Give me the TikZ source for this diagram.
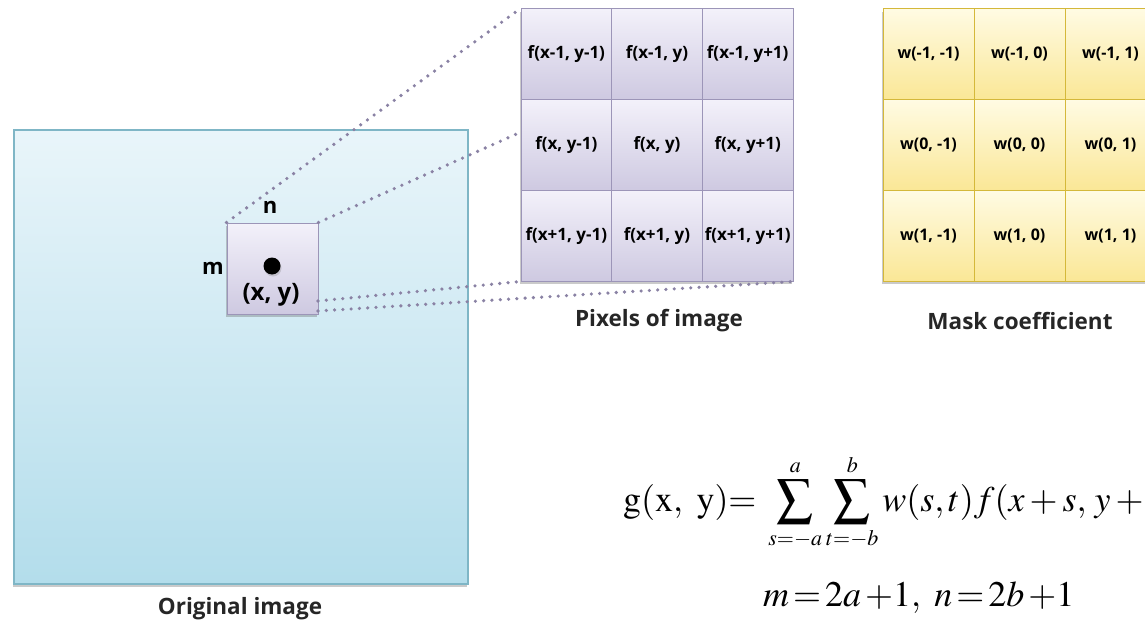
\documentclass[tikz,border=0pt]{standalone}
\usepackage{mathptmx}
\usepackage[no-math]{fontspec}
\setmainfont{Open Sans}
\DeclareMathSizes{36}{36}{22}{16}
\usetikzlibrary{shadows}
\definecolor{origTop}{HTML}{E9F5FA}
\definecolor{origBot}{HTML}{B3DDEB}
\definecolor{origLine}{HTML}{7FB6C6}
\definecolor{lavTop}{HTML}{F3F1FA}
\definecolor{lavBot}{HTML}{CEC9E1}
\definecolor{lavLine}{HTML}{9C95B8}
\definecolor{yelTop}{HTML}{FFFBE3}
\definecolor{yelBot}{HTML}{FAE796}
\definecolor{yelLine}{HTML}{D4B83A}
\definecolor{dotCol}{HTML}{8A82A4}
\tikzset{
  x=1pt, y=-1pt,
  softshadow/.style={drop shadow={shadow xshift=-1.5pt, shadow yshift=-3pt, opacity=0.35, fill=black!60}},
  origbox/.style={draw=origLine, line width=1.2pt, top color=origTop, bottom color=origBot, softshadow},
  lavbox/.style={draw=lavLine, line width=1pt, top color=lavTop, bottom color=lavBot},
  pixcell/.style={lavbox, minimum width=90.67pt, minimum height=90.67pt, inner sep=0pt, font=\bfseries\fontsize{17}{20}\selectfont},
  maskcell/.style={draw=yelLine, line width=1pt, top color=yelTop, bottom color=yelBot, minimum width=91pt, minimum height=90.67pt, inner sep=0pt, font=\bfseries\fontsize{16}{19}\selectfont},
  caption/.style={font=\bfseries\fontsize{22.5}{26}\selectfont, text=black!85},
  winlabel/.style={font=\bfseries\fontsize{22}{25}\selectfont},
  dotted link/.style={draw=dotCol, line width=3.6pt, line cap=round, dash pattern=on 0pt off 8.3pt},
}
\begin{document}
\begin{tikzpicture}
\useasboundingbox (0,0) rectangle (1145,623);
\clip (0,0) rectangle (1145,623);

% original image
\node[origbox, minimum width=454pt, minimum height=454pt, inner sep=0pt] (orig) at (241,357) {};
\node[caption] (origlab) at (240,609) {Original image};

\coordinate (a2) at (521,132);
\coordinate (b3) at (318,301);
\coordinate (b4) at (318,311);

% small window
\node[lavbox, softshadow, minimum width=91pt, minimum height=91pt, inner sep=0pt] (win) at (272.5,268.5) {};
\node[circle, fill=black, inner sep=0pt, minimum size=17pt, drop shadow={shadow xshift=1pt, shadow yshift=-2pt, opacity=0.3}] (dot) at (272,266) {};
\node[winlabel, font=\bfseries\fontsize{24}{27}\selectfont] (xy) at (271,295) {(x, y)};
\node[winlabel] (nlab) at (270,207) {n};
\node[winlabel] (mlab) at (213,268) {m};

% pixel grid
\node[softshadow, fill=white, minimum width=272pt, minimum height=272pt, inner sep=0pt] (pgrid) at (657,145) {};
\node[pixcell] (p11) at (566.33,54.33) {f(x-1, y-1)};
\node[pixcell] (p12) at (657,54.33) {f(x-1, y)};
\node[pixcell] (p13) at (747.67,54.33) {f(x-1, y+1)};
\node[pixcell] (p21) at (566.33,145) {f(x, y-1)};
\node[pixcell] (p22) at (657,145) {f(x, y)};
\node[pixcell] (p23) at (747.67,145) {f(x, y+1)};
\node[pixcell] (p31) at (566.33,235.67) {f(x+1, y-1)};
\node[pixcell] (p32) at (657,235.67) {f(x+1, y)};
\node[pixcell] (p33) at (747.67,235.67) {f(x+1, y+1)};
\node[caption] (pixlab) at (659,321) {Pixels of image};

% mask grid
\node[softshadow, fill=white, minimum width=273pt, minimum height=272pt, inner sep=0pt] (mgrid) at (1019.5,145) {};
\node[maskcell] (w11) at (928.5,54.33) {w(-1, -1)};
\node[maskcell] (w12) at (1019.5,54.33) {w(-1, 0)};
\node[maskcell] (w13) at (1110.5,54.33) {w(-1, 1)};
\node[maskcell] (w21) at (928.5,145) {w(0, -1)};
\node[maskcell] (w22) at (1019.5,145) {w(0, 0)};
\node[maskcell] (w23) at (1110.5,145) {w(0, 1)};
\node[maskcell] (w31) at (928.5,235.67) {w(1, -1)};
\node[maskcell] (w32) at (1019.5,235.67) {w(1, 0)};
\node[maskcell] (w33) at (1110.5,235.67) {w(1, 1)};
\node[caption] (masklab) at (1020,321) {Mask coefficient};

% dotted links
\draw[dotted link] (win.north west) -- (p11.north west);
\draw[dotted link] (win.north east) -- (a2);
\draw[dotted link] (b3) -- (p31.south west);
\draw[dotted link] (b4) -- (p33.south east);

% formula
\node[anchor=base west, inner sep=0pt, font=\fontsize{36}{40}\selectfont] (eq1) at (623,511)
  {$\displaystyle \mathrm{g(x,\ y)}{=}\;\sum_{s=-a}^{a}\sum_{t=-b}^{b} w(s,t)f(x+s,\,y+t)$};
\node[anchor=base west, inner sep=0pt, font=\fontsize{36}{40}\selectfont] (eq2) at (763,606)
  {$m\,{=}\,2a\,{+}1,\ n\,{=}\,2b\,{+}1$};
\end{tikzpicture}
\end{document}
